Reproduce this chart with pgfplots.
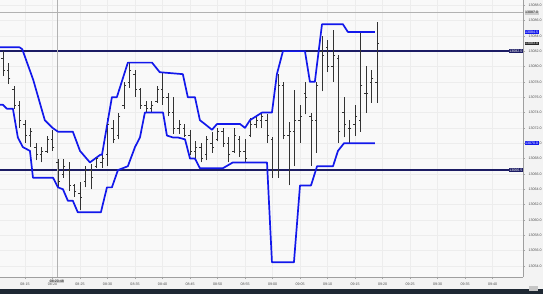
\documentclass[border=0pt]{standalone}
\usepackage{pgfplots}
\usepackage{pgfplotstable}
\pgfplotsset{compat=1.18}
\usepackage{fontspec}
\setmainfont{Liberation Sans}
\usetikzlibrary{plotmarks}
\definecolor{chblue}{RGB}{18,24,235}
\definecolor{navy}{RGB}{28,28,100}
\definecolor{plotbg}{HTML}{F9F9F9}
\definecolor{outbg}{HTML}{F3F3F3}
\definecolor{strip}{HTML}{1E2833}
\newcommand\lab{\fontsize{3.6}{4}\selectfont}

\pgfplotstableread{
m O H L C
11 13081.0 13082.0 13078.75 13079.5
12 13079.5 13080.5 13077.75 13078.5
13 13077.0 13077.5 13074.5 13075.0
14 13075.0 13075.5 13072.0 13073.0
15 13072.5 13073.0 13070.0 13071.0
16 13071.0 13072.0 13069.5 13071.5
17 13069.5 13070.0 13067.75 13068.5
18 13068.5 13069.5 13067.5 13069.0
19 13069.0 13071.0 13068.75 13070.5
20 13070.5 13071.75 13069.0 13069.5
21 13067.5 13068.0 13064.25 13065.0
22 13066.0 13068.0 13065.5 13067.0
23 13066.5 13067.5 13063.75 13064.5
24 13064.5 13064.75 13063.0 13063.75
25 13063.5 13065.0 13061.25 13063.0
26 13065.0 13067.0 13064.25 13066.5
27 13066.5 13067.25 13064.0 13065.5
28 13067.0 13068.25 13066.75 13068.0
29 13067.5 13068.75 13066.75 13068.0
30 13068.5 13073.25 13067.0 13072.5
31 13072.0 13073.0 13070.0 13070.5
32 13071.0 13074.0 13070.5 13073.5
33 13075.0 13078.0 13074.5 13077.5
34 13078.0 13080.5 13077.25 13079.5
35 13079.0 13079.5 13076.0 13077.0
36 13077.0 13077.25 13074.5 13075.0
37 13075.0 13075.5 13074.0 13074.5
38 13074.5 13075.5 13074.0 13075.0
39 13075.5 13077.5 13075.25 13077.0
40 13077.0 13079.25 13075.0 13076.0
41 13076.0 13076.5 13073.5 13074.0
42 13074.0 13076.0 13071.25 13072.0
43 13072.0 13073.0 13071.25 13072.5
44 13072.0 13072.5 13070.75 13071.0
45 13071.0 13071.75 13068.5 13069.0
46 13069.0 13070.25 13068.0 13069.5
47 13069.5 13070.0 13067.5 13068.0
48 13068.5 13071.0 13067.75 13070.5
49 13070.0 13071.5 13068.75 13069.5
50 13070.5 13072.0 13070.25 13071.5
51 13071.5 13072.0 13069.5 13070.0
52 13070.0 13070.75 13067.5 13068.5
53 13069.0 13072.0 13068.75 13071.0
54 13070.5 13071.0 13068.25 13069.0
55 13069.0 13070.5 13067.5 13068.0
56 13071.0 13073.25 13070.75 13072.5
57 13072.5 13073.5 13072.0 13073.0
58 13073.0 13074.0 13072.0 13073.5
59 13073.0 13073.75 13070.0 13071.0
60 13070.5 13070.75 13065.5 13066.5
61 13066.5 13079.0 13065.5 13077.5
62 13077.5 13078.0 13070.5 13071.0
63 13071.0 13072.75 13064.5 13071.5
64 13071.5 13077.0 13067.0 13073.0
65 13073.0 13075.0 13070.0 13073.5
66 13076.5 13078.0 13073.75 13076.0
67 13073.5 13074.0 13067.0 13073.0
68 13073.0 13078.0 13068.75 13077.5
69 13082.0 13084.0 13076.75 13081.5
70 13082.5 13083.5 13079.25 13080.0
71 13080.0 13084.75 13078.0 13081.5
72 13081.0 13081.5 13070.0 13071.5
73 13074.0 13076.0 13070.75 13072.5
74 13072.0 13073.0 13070.0 13072.0
75 13072.5 13075.0 13071.0 13073.5
76 13073.0 13084.5 13071.5 13077.5
77 13076.5 13080.0 13074.0 13076.5
78 13078.0 13079.5 13075.25 13078.5
79 13078.0 13085.75 13075.25 13083.0
}\barsdata

\pgfplotstableread{
m p
10.45 13082.50
14.00 13082.50
14.50 13082.25
16.50 13078.25
18.60 13073.00
20.00 13072.00
21.00 13071.50
23.70 13071.50
25.00 13069.00
26.80 13067.50
28.70 13068.50
29.00 13068.50
30.80 13076.00
31.70 13076.00
33.70 13080.50
38.10 13080.50
39.50 13079.25
43.70 13079.00
44.60 13076.00
45.90 13076.00
46.80 13073.00
47.70 13072.50
49.00 13071.75
49.90 13072.50
54.10 13072.50
55.00 13072.00
55.90 13073.00
58.10 13074.00
59.90 13074.00
60.80 13079.00
61.90 13082.00
65.90 13082.00
66.80 13078.00
67.70 13078.00
69.00 13085.50
72.80 13085.50
73.70 13084.50
78.60 13084.50
}\upchan

\pgfplotstableread{
m p
10.45 13075.00
11.00 13075.00
11.70 13074.50
12.80 13074.50
13.70 13070.75
14.60 13069.50
15.90 13069.00
16.45 13065.50
20.10 13065.50
21.00 13064.25
21.90 13064.00
22.80 13062.50
23.70 13062.50
24.60 13061.00
28.80 13061.00
29.90 13064.25
30.80 13064.25
31.90 13066.50
33.70 13067.00
35.00 13069.50
35.90 13070.75
36.80 13074.00
40.10 13074.00
40.80 13071.00
41.90 13070.75
42.80 13070.75
44.10 13070.50
45.00 13068.00
45.90 13068.00
46.80 13066.75
51.00 13066.75
52.80 13067.50
59.00 13067.50
59.90 13054.50
63.90 13054.50
65.00 13064.50
67.00 13064.50
68.10 13067.00
71.00 13067.00
71.90 13069.00
73.00 13070.00
78.60 13070.00
}\lowchan

\begin{document}
\begin{tikzpicture}
\useasboundingbox (0pt,0pt) rectangle (543pt,-294pt);
\fill[outbg] (0pt,0pt) rectangle (543pt,-294pt);
\fill[strip] (0pt,-289pt) rectangle (543pt,-294pt);
\fill[gray!45] (529pt,-285.5pt) rectangle (538pt,-290.5pt);
\begin{axis}[at={(0pt,-277pt)}, anchor=south west, width=523pt, height=277pt, scale only axis,
 xmin=10.4545, xmax=105.545, ymin=13052.57, ymax=13088.66,
 axis background/.style={fill=plotbg},
 separate axis lines, axis x line*=bottom, axis y line*=right,
 axis line style={draw=gray!75, line width=0.5pt},
 xtick={15,20,...,100},
 xticklabels={08:15,08:20,08:25,08:30,08:35,08:40,08:45,08:50,08:55,09:00,09:05,09:10,09:15,09:20,09:25,09:30,09:35,09:40},
 ytick={13054,13056,...,13088},
 scaled y ticks=false,
 tick align=outside, major tick length=2pt,
 tick style={draw=gray!70, line width=0.4pt},
 ticklabel style={font=\lab, text=gray!60!black},
 yticklabel style={/pgf/number format/fixed, /pgf/number format/fixed zerofill,
   /pgf/number format/precision=1, /pgf/number format/1000 sep={},
   /pgf/number format/assume math mode=true},
 grid=major, major grid style={draw=gray!14, line width=0.4pt},
 clip=false,
]
% horizontal levels
\addplot[navy, line width=1.3pt, forget plot] coordinates {(10.4545,13082.0) (105.545,13082.0)};
\addplot[navy, line width=1.3pt, forget plot] coordinates {(10.4545,13066.5) (105.545,13066.5)};
% crosshair
\addplot[gray!60, line width=0.6pt, forget plot] coordinates {(20.8,13052.57) (20.8,13088.66)};
\addplot[gray!60, line width=0.6pt, forget plot] coordinates {(10.4545,13087.0) (105.545,13087.0)};
% OHLC bars
\addplot[draw=none, mark=none, forget plot,
  error bars/.cd, y dir=plus, y explicit, error mark=none,
  error bar style={draw=black!80, line width=0.9pt}]
  table[x=m, y=L, y error expr=\thisrow{H}-\thisrow{L}] {\barsdata};
\addplot[only marks, mark=-, mark size=1pt, black!80, mark options={line width=0.6pt}, forget plot]
  table[x expr=\thisrow{m}-0.18, y=O] {\barsdata};
\addplot[only marks, mark=-, mark size=1pt, black!80, mark options={line width=0.6pt}, forget plot]
  table[x expr=\thisrow{m}+0.18, y=C] {\barsdata};
% channel
\addplot[chblue, line width=1.7pt, line join=round, forget plot] table[x=m, y=p] {\upchan};
\addplot[chblue, line width=1.7pt, line join=round, forget plot] table[x=m, y=p] {\lowchan};
% price labels
\node[fill=navy, text=white, font=\lab, inner sep=0.5pt, anchor=east] at (axis cs:105.545,13082.0) {13082.0};
\node[fill=navy, text=white, font=\lab, inner sep=0.5pt, anchor=east] at (axis cs:105.545,13066.5) {13066.5};
\node[fill=chblue, text=white, font=\lab, inner sep=0.5pt, anchor=west, xshift=1.5pt] at (axis cs:105.545,13084.5) {13084.5};
\node[fill=chblue, text=white, font=\lab, inner sep=0.5pt, anchor=west, xshift=1.5pt] at (axis cs:105.545,13070.0) {13070.0};
\node[fill=black!85, text=white, font=\lab, inner sep=0.5pt, anchor=west, xshift=1.5pt] at (axis cs:105.545,13083.0) {13083.0};
\node[fill=gray!40, text=gray!20!black, font=\lab, inner sep=0.5pt, anchor=west, xshift=1.5pt] at (axis cs:105.545,13087.0) {13087.0};
\node[fill=gray!40, text=gray!20!black, font=\lab, inner sep=0.5pt, anchor=north, yshift=-2.5pt] at (axis cs:20.8,13052.57) {08:20:48};
\end{axis}
\end{tikzpicture}
\end{document}
